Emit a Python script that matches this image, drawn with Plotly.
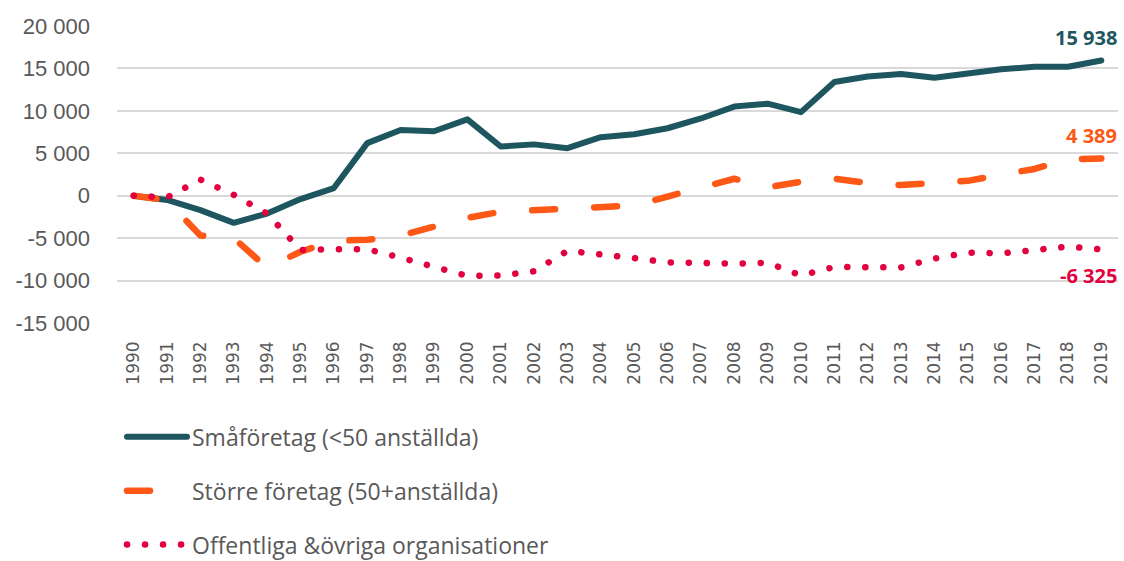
import plotly.graph_objects as go

years = list(range(1990, 2020))

small_firms = [0, -500, -1700, -3200, -2100, -400, 900, 6200, 7750, 7600,
               9000, 5800, 6050, 5600, 6900, 7250, 7950, 9100, 10500, 10850,
               9850, 13400, 14050, 14350, 13900, 14450, 14900, 15200, 15200, 15938]

large_firms = [0, -550, -4700, -5000, -8500, -6600, -5300, -5200, -4700, -3700,
               -2600, -1900, -1700, -1450, -1300, -1150, -100, 1000, 2000, 1000,
               1650, 2000, 1500, 1250, 1550, 1750, 2500, 3150, 4300, 4389]

public_orgs = [0, -200, 1900, 100, -2100, -6400, -6300, -6300, -7300, -8300,
               -9450, -9400, -8900, -6500, -6850, -7350, -7850, -8000, -8000, -7900,
               -9400, -8400, -8500, -8450, -7400, -6700, -6800, -6400, -6000, -6325]

series_names = ["Småföretag (<50 anställda)",
                "Större företag (50+anställda)",
                "Offentliga &övriga organisationer"]

y_tickvals = [20000, 15000, 10000, 5000, 0, -5000, -10000, -15000]
y_ticktext = ["20 000", "15 000", "10 000", "5 000", "0", "-5 000", "-10 000", "-15 000"]

TEAL = "#1E565F"
ORANGE = "#FD5815"
CRIMSON = "#E3003F"
GREY = "#595959"


def fmt(v):
    return f"{v:,}".replace(",", " ")


fig = go.Figure()
fig.add_trace(go.Scatter(x=years, y=small_firms, mode="lines", name=series_names[0],
                         line=dict(color=TEAL, width=6), legendgroup="a"))
fig.add_trace(go.Scatter(x=years, y=large_firms, mode="lines", name=series_names[1],
                         line=dict(color=ORANGE, width=6.5, dash="23px,39px"), legendgroup="b"))
fig.add_trace(go.Scatter(x=years, y=public_orgs, mode="lines", name=series_names[2],
                         line=dict(color=CRIMSON, width=6.5, dash="0.1px,17.9px"), legendgroup="c"))

label_specs = [(small_firms, TEAL, 23), (large_firms, ORANGE, 23), (public_orgs, CRIMSON, -26)]
for vals, col, ys in label_specs:
    fig.add_annotation(x=years[-1], y=vals[-1], text=f"<b>{fmt(vals[-1])}</b>",
                       showarrow=False, xanchor="right", yanchor="middle",
                       xshift=18, yshift=ys,
                       font=dict(family="Open Sans", size=20, color=col))

fig.update_layout(
    width=1124, height=561,
    margin=dict(l=117, r=6, t=26, b=238, autoexpand=False),
    paper_bgcolor="white", plot_bgcolor="white",
    showlegend=True,
    legend=dict(orientation="v", x=0.005, xanchor="left", y=-0.311, yanchor="top",
                font=dict(family="Open Sans", size=23, color=GREY),
                itemwidth=60, tracegroupgap=21, bgcolor="rgba(0,0,0,0)"),
    xaxis=dict(range=[1989.5, 2019.5], tickvals=years, ticktext=[str(y) for y in years],
               tickangle=-90, showgrid=False, zeroline=False, showline=False, ticks="",
               ticklabelstandoff=14,
               tickfont=dict(family="DejaVu Sans", size=17, color=GREY)),
    yaxis=dict(range=[-15000, 20000], tickvals=y_tickvals, ticktext=y_ticktext,
               showgrid=True, gridcolor="#D9D9D9", gridwidth=1.5, zeroline=False,
               showline=False, ticks="", ticklabelstandoff=26,
               tickfont=dict(family="Liberation Sans", size=22, color=GREY)),
)

post = """
document.body.style.margin = '0';
document.body.style.padding = '0';
document.documentElement.style.overflow = 'hidden';
function roundCaps(){
  document.querySelectorAll('path.js-line').forEach(function(p){
    p.style.strokeLinecap = 'round';
    p.style.strokeLinejoin = 'round';
  });
}
roundCaps();
var gd = document.getElementsByClassName('plotly-graph-div')[0];
if (gd && gd.on) { gd.on('plotly_afterplot', roundCaps); }
"""

fig.write_html("out.html", post_script=post, config={"displayModeBar": False})
